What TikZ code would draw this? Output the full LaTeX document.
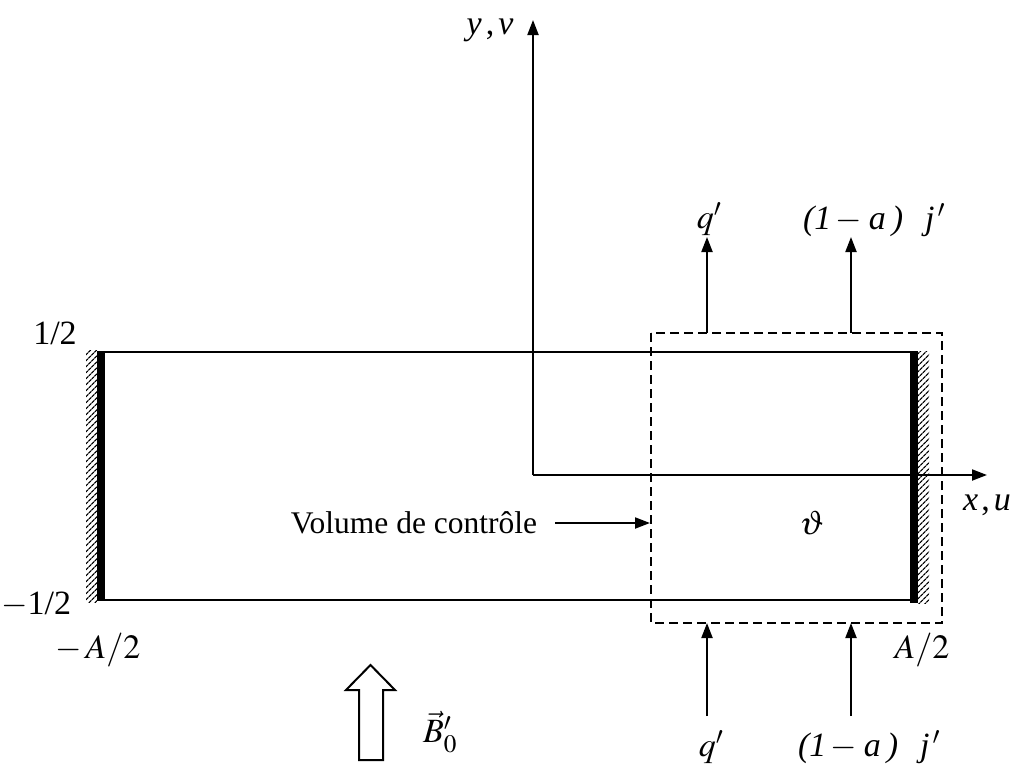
\documentclass[tikz,border=0pt]{standalone}
\usepackage{mathptmx}
\usepackage{fontspec}
\setmainfont{Liberation Serif}
\usetikzlibrary{arrows.meta,patterns.meta}
\newcommand{\fluxj}{\textit{(1}\hspace{4pt}$-$\hspace{7pt}\textit{a}\hspace{6pt}\textit{)}\hspace{22pt}\textit{j}\hspace{3pt}$^{\prime}$}
\begin{document}
\begin{tikzpicture}[x=1pt,y=-1pt,
  line width=2pt,
  arr/.style={-{Triangle[length=15pt,width=11pt]}},
  dashbox/.style={dash pattern=on 9pt off 5pt},
  hatch/.style={pattern={Lines[angle=45,distance=4pt,line width=1.3pt]}},
  lbl/.style={inner sep=0pt,font=\fontsize{34}{40}\selectfont},
  txt/.style={inner sep=0pt,font=\fontsize{31.5}{36}\selectfont}]
\useasboundingbox (0,0) rectangle (1021,771);

% channel walls
\fill[hatch] (86,350) rectangle (97,602);
\fill[black] (97,351) rectangle (105,601);
\fill[hatch] (918,351) rectangle (929,603);
\fill[black] (910,351) rectangle (918,603);
\coordinate (TL) at (105,352);
\coordinate (TR) at (910,352);
\coordinate (BL) at (105,600);
\coordinate (BR) at (910,600);
\draw (TL) -- (TR);
\draw (BL) -- (BR);

% axes
\coordinate (O) at (533,475);
\coordinate (Ytip) at (533,20);
\coordinate (Xtip) at (987,475);
\draw[arr] (O) -- (Ytip);
\draw[arr] (O) -- (Xtip);
\node[lbl] (yv) at (490,30) {\textit{y}\hspace{4pt},\hspace{4pt}\textit{v}};
\node[lbl] (xu) at (987,505) {\textit{x}\hspace{3pt},\hspace{4pt}\textit{u}};

% control volume
\draw[dashbox] (651,333) rectangle (942,623);
\coordinate (T1) at (707,333);
\coordinate (T2) at (851,333);
\coordinate (T1e) at (707,237);
\coordinate (T2e) at (851,237);
\coordinate (B1) at (707,623);
\coordinate (B2) at (851,623);
\coordinate (B1s) at (707,716);
\coordinate (B2s) at (851,716);
\draw[arr] (T1) -- (T1e);
\draw[arr] (T2) -- (T2e);
\draw[arr] (B1s) -- (B1);
\draw[arr] (B2s) -- (B2);
\node[lbl] (q1) at (709,219) {$q^{\prime}$};
\node[lbl] (j1) at (874,220) {\fluxj};
\node[lbl] (q2) at (711,747) {$q^{\prime}$};
\node[lbl] (j2) at (869,747) {\fluxj};
\node[lbl] (theta) at (812,523) {$\vartheta$};

% label "Volume de controle"
\node[txt] (vc) at (414,523) {Volume de contrôle};
\coordinate (vcend) at (650,523);
\draw[arr] (555,523) -- (vcend);

% dimensions
\node[lbl] (h1) at (55,333) {1/2};
\node[lbl,anchor=east] (h2) at (72,605) {$-$1/2};
\node[lbl] (a1) at (98,650) {$-\,A/2$};
\node[lbl] (a2) at (922,650) {$A/2$};

% magnetic field
\draw[line width=2pt,line join=miter] (359,760) -- (359,690) -- (346,690) -- (370.5,665) -- (395,690) -- (383,690) -- (383,760) -- cycle;
\node[lbl] (B) at (440,732) {$\vec{B}^{\prime}_0$};
\end{tikzpicture}
\end{document}
